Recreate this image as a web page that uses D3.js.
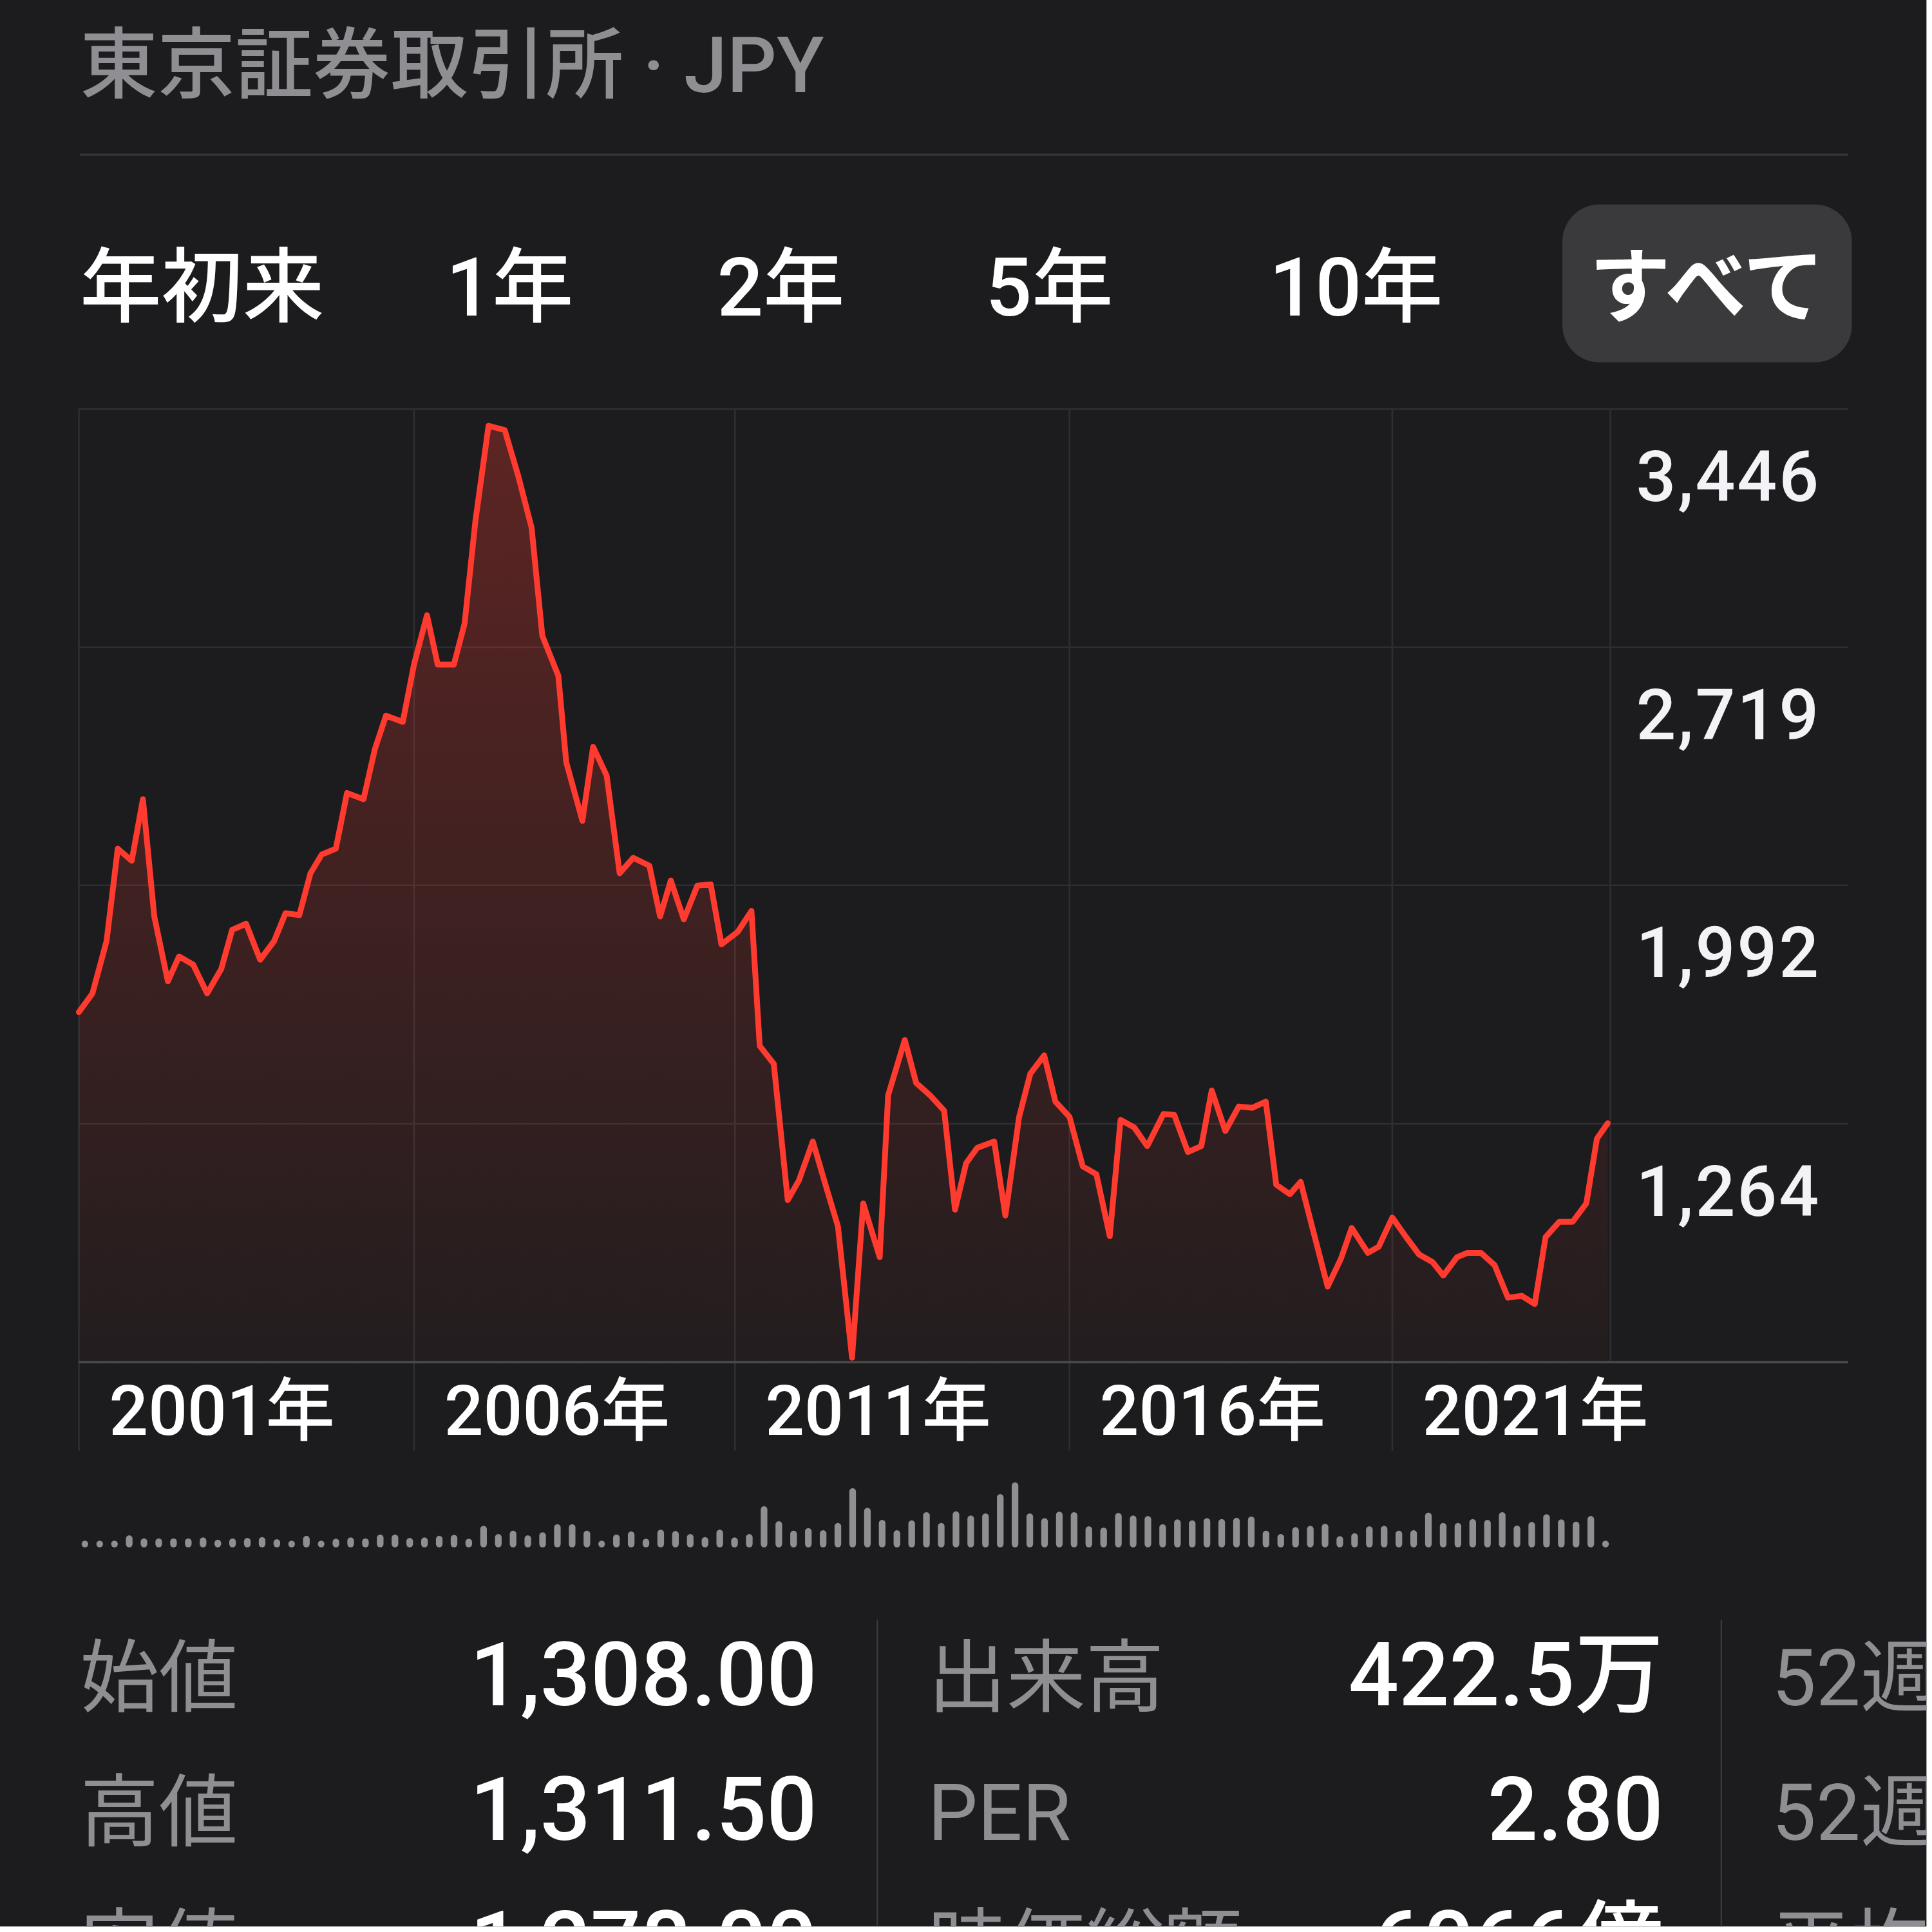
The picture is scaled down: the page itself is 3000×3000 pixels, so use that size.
<!DOCTYPE html>
<meta charset="utf-8">
<title>東京証券取引所 · JPY</title>
<script src="https://d3js.org/d3.v7.min.js"></script>
<style>
  body { margin: 0; background: #ffffff; }
  text { font-family: Roboto, "Noto Sans CJK JP", sans-serif; }
</style>
<body>
<div id="chart"></div>
<script>

// ---- data ----
var dates = [
  "2001-01-01","2001-03-16","2001-06-01","2001-08-01","2001-10-16","2001-12-16",
  "2002-02-16","2002-05-01","2002-07-01","2002-09-16","2002-12-01","2003-02-16",
  "2003-04-16","2003-07-01","2003-09-16","2003-12-01","2004-02-01","2004-04-16",
  "2004-06-16","2004-08-16","2004-11-01","2005-01-01","2005-04-01","2005-06-01",
  "2005-08-01","2005-11-01","2006-01-01","2006-03-16","2006-05-16","2006-08-16",
  "2006-10-16","2006-12-16","2007-03-01","2007-06-01","2007-08-16","2007-11-01",
  "2008-01-01","2008-04-01","2008-05-16","2008-08-16","2008-10-16","2009-01-01",
  "2009-03-16","2009-06-01","2009-09-01","2009-11-01","2010-01-01","2010-03-16",
  "2010-06-01","2010-08-16","2010-10-16","2011-01-16","2011-04-01","2011-05-16",
  "2011-08-01","2011-10-16","2011-12-16","2012-03-01","2012-05-16","2012-07-16",
  "2012-10-01","2012-12-01","2013-03-01","2013-04-16","2013-07-16","2013-09-16",
  "2013-12-01","2014-02-16","2014-04-16","2014-06-16","2014-08-16","2014-11-16",
  "2015-01-16","2015-04-01","2015-06-01","2015-08-16","2015-10-16","2016-01-01",
  "2016-03-16","2016-06-01","2016-08-16","2016-10-16","2017-01-01","2017-03-16",
  "2017-06-16","2017-08-16","2017-11-01","2018-01-16","2018-03-16","2018-06-01",
  "2018-08-16","2018-11-01","2019-01-16","2019-03-16","2019-06-01","2019-08-01",
  "2019-10-16","2020-01-01","2020-03-16","2020-05-16","2020-08-16","2020-10-16",
  "2021-01-01","2021-03-16","2021-06-01","2021-08-16","2021-10-16","2022-01-01",
  "2022-03-01","2022-05-16","2022-08-01","2022-10-16","2023-01-01","2023-03-16",
  "2023-05-16","2023-08-01","2023-10-16","2024-01-01","2024-03-01","2024-05-01"
];

var prices = [
  1605, 1662, 1822, 2104, 2067, 2255,
  1897, 1699, 1775, 1750, 1662, 1737,
  1856, 1875, 1765, 1822, 1907, 1901,
  2029, 2086, 2104, 2274, 2255, 2406,
  2510, 2491, 2666, 2817, 2666, 2666,
  2792, 3103, 3395, 3382, 3244, 3084,
  2754, 2632, 2368, 2189, 2415, 2327,
  2029, 2076, 2052, 1897, 2007, 1888,
  1991, 1995, 1812, 1850, 1914, 1502,
  1447, 1031, 1091, 1210, 1065, 951,
  550, 1021, 857, 1351, 1520, 1389,
  1351, 1304, 1002, 1144, 1191, 1210,
  984, 1285, 1417, 1473, 1332, 1285,
  1134, 1110, 921, 1276, 1253, 1196,
  1294, 1291, 1178, 1196, 1366, 1242,
  1317, 1313, 1332, 1078, 1049, 1087,
  927, 767, 852, 946, 870, 889,
  978, 921, 865, 842, 801, 857,
  870, 870, 833, 733, 739, 714,
  918, 965, 965, 1021, 1219, 1266
];

// volume bars (relative units, left to right)
var volumes = [
  26, 30, 28, 56, 42, 42, 42, 42, 46, 36, 42, 44, 48, 38, 26, 54, 30, 40,
  46, 42, 60, 60, 44, 46, 54, 58, 40, 100, 62, 78, 56, 70, 108, 108, 78, 24,
  60, 74, 40, 82, 76, 62, 48, 82, 46, 62, 192, 122, 78, 90, 80, 114, 276,
  184, 128, 80, 126, 164, 114, 168, 148, 158, 248, 303, 158, 136, 166, 164,
  98, 92, 160, 148, 146, 108, 130, 126, 136, 132, 138, 144, 78, 62, 94, 100,
  110, 52, 66, 98, 100, 78, 80, 162, 114, 114, 132, 128, 164, 102, 118, 154,
  130, 120, 146, 26
];

var priceTicks = [3446, 2719, 1992, 1264];
var priceBottom = 536.5;
var yearTicks = [2001, 2006, 2011, 2016, 2021];
var lastDate = "2024-05-16";

var ranges = ["年初来", "1年", "2年", "5年", "10年", "すべて"];
var selectedRange = "すべて";

var statLabels = [
  ["始値", "高値", "安値"],
  ["出来高", "PER", "時価総額"],
  ["52週高値", "52週安値", "平均出来高"]
];
var statValues = [
  ["1,308.00", "1,311.50", "1,278.00"],
  ["422.5万", "2.80", "6066億"],
  ["", "", ""]
];

// ---- layout (designed on a 1568 grid, scaled to 3000) ----
var S = 3000 / 1568;
function u(v) { return v * S; }

var W = 3000, H = 3000;
var panel = u(1563.5);
var plot = { left: 64, right: 1307, top: 332, bottom: 1105.5, gridRight: 1500 };
var yearX = [64, 336, 596.5, 868, 1130, 1307];
var tabX = [65, 362, 582, 800, 1030, 1290];

var parse = d3.timeParse("%Y-%m-%d");
var series = dates.map(function (d, i) { return { date: parse(d), price: prices[i] }; });

var svg = d3.select("#chart")
  .append("svg")
  .attr("width", W)
  .attr("height", H);

svg.append("rect")
  .attr("width", panel)
  .attr("height", panel)
  .attr("fill", "#1c1c1e");

svg.append("clipPath").attr("id", "panelClip")
  .append("rect").attr("width", panel).attr("height", panel);

var root = svg.append("g").attr("clip-path", "url(#panelClip)");

// title + separator
root.append("text")
  .attr("x", u(65))
  .attr("y", u(75))
  .attr("font-size", u(63))
  .attr("font-weight", 500)
  .attr("fill", "#8e8e93")
  .text("東京証券取引所 · JPY");

root.append("line")
  .attr("x1", u(65)).attr("x2", u(1500))
  .attr("y1", u(125.5)).attr("y2", u(125.5))
  .attr("stroke", "#36363a")
  .attr("stroke-width", u(1.6));

// range selector
root.append("rect")
  .attr("x", u(1268)).attr("y", u(166))
  .attr("width", u(235)).attr("height", u(128))
  .attr("rx", u(30))
  .attr("fill", "#3a3a3c");

root.selectAll(".tab")
  .data(ranges)
  .enter()
  .append("text")
  .attr("class", "tab")
  .attr("x", function (d, i) { return u(tabX[i]); })
  .attr("y", u(256))
  .attr("font-size", u(66))
  .attr("font-weight", function (d) { return d === selectedRange ? 700 : 500; })
  .attr("fill", "#ffffff")
  .text(function (d) { return d; });

// scales
var x = d3.scaleTime()
  .domain(yearTicks.map(function (y) { return new Date(y, 0, 1); }).concat([parse(lastDate)]))
  .range(yearX.map(u));

var y = d3.scaleLinear()
  .domain([priceBottom, priceTicks[0]])
  .range([u(plot.bottom), u(plot.top)]);

// grid
var grid = root.append("g");
grid.selectAll(".hgrid")
  .data(priceTicks)
  .enter()
  .append("line")
  .attr("x1", u(plot.left)).attr("x2", u(plot.gridRight))
  .attr("y1", function (d) { return y(d); })
  .attr("y2", function (d) { return y(d); })
  .attr("stroke", "#2e2e31")
  .attr("stroke-width", u(1.4));

grid.selectAll(".vgrid")
  .data(yearTicks)
  .enter()
  .append("line")
  .attr("x1", function (d) { return x(new Date(d, 0, 1)); })
  .attr("x2", function (d) { return x(new Date(d, 0, 1)); })
  .attr("y1", u(plot.top)).attr("y2", u(1177.6))
  .attr("stroke", "#2e2e31")
  .attr("stroke-width", u(1.4));

grid.append("line")
  .attr("x1", x(parse(lastDate))).attr("x2", x(parse(lastDate)))
  .attr("y1", u(plot.top)).attr("y2", u(plot.bottom))
  .attr("stroke", "#2e2e31")
  .attr("stroke-width", u(1.4));

// area + line
var defs = svg.append("defs");
var grad = defs.append("linearGradient")
  .attr("id", "areaFill")
  .attr("gradientUnits", "userSpaceOnUse")
  .attr("x1", 0).attr("x2", 0)
  .attr("y1", u(plot.top)).attr("y2", u(plot.bottom));
grad.append("stop").attr("offset", "0%").attr("stop-color", "#ff3b30").attr("stop-opacity", 0.29);
grad.append("stop").attr("offset", "100%").attr("stop-color", "#ff3b30").attr("stop-opacity", 0.03);

root.append("path")
  .datum(series)
  .attr("fill", "url(#areaFill)")
  .attr("d", d3.area()
    .x(function (d) { return x(d.date); })
    .y0(u(plot.bottom))
    .y1(function (d) { return y(d.price); }));

// bottom axis line
root.append("line")
  .attr("x1", u(plot.left)).attr("x2", u(plot.gridRight))
  .attr("y1", u(plot.bottom)).attr("y2", u(plot.bottom))
  .attr("stroke", "#4a4a4d")
  .attr("stroke-width", u(2));

root.append("path")
  .datum(series)
  .attr("fill", "none")
  .attr("stroke", "#ff3b30")
  .attr("stroke-width", u(4.7))
  .attr("stroke-linejoin", "round")
  .attr("stroke-linecap", "round")
  .attr("d", d3.line()
    .x(function (d) { return x(d.date); })
    .y(function (d) { return y(d.price); }));

// y labels
root.selectAll(".ylab")
  .data(priceTicks)
  .enter()
  .append("text")
  .attr("x", u(1477.6))
  .attr("y", function (d) { return y(d) + u(74.5); })
  .attr("text-anchor", "end")
  .attr("font-size", u(57))
  .attr("font-weight", 500)
  .attr("letter-spacing", u(1.5))
  .attr("fill", "#f2f2f7")
  .text(function (d) { return d3.format(",")(d); });

// x labels
root.selectAll(".xlab")
  .data(yearTicks)
  .enter()
  .append("text")
  .attr("x", function (d) { return x(new Date(d, 0, 1)) + u(24.5); })
  .attr("y", u(1164.5))
  .attr("font-size", u(56))
  .attr("font-weight", 500)
  .attr("fill", "#ffffff")
  .text(function (d) { return d + "年"; });

// volume bars
var vx = d3.scaleBand()
  .domain(d3.range(volumes.length))
  .range([u(63), u(1309)])
  .paddingInner(0.55)
  .paddingOuter(0.27);

var vh = d3.scaleLinear()
  .domain([0, d3.max(volumes)])
  .range([0, u(52.8)]);

var volBase = u(1255.8);
root.append("g")
  .selectAll("rect")
  .data(volumes)
  .enter()
  .append("rect")
  .attr("x", function (d, i) { return vx(i); })
  .attr("width", vx.bandwidth())
  .attr("y", function (d) { return volBase - Math.max(vh(d), vx.bandwidth()); })
  .attr("height", function (d) { return Math.max(vh(d), vx.bandwidth()); })
  .attr("rx", vx.bandwidth() / 2)
  .attr("fill", "#8e8e93");

// stats table (third row runs off the bottom edge, as in the screenshot)
var rowY = [1384, 1493, 1602];
var colLabelX = [65, 753, 1438];
var colValueX = [663, 1350, 2040];
var dividerX = [712, 1397];

root.selectAll(".divider")
  .data(dividerX)
  .enter()
  .append("line")
  .attr("x1", function (d) { return u(d); })
  .attr("x2", function (d) { return u(d); })
  .attr("y1", u(1314.5)).attr("y2", panel)
  .attr("stroke", "#3a3a3c")
  .attr("stroke-width", u(1.2));

statLabels.forEach(function (col, c) {
  col.forEach(function (label, r) {
    root.append("text")
      .attr("x", u(colLabelX[c]))
      .attr("y", u(rowY[r]))
      .attr("font-size", u(64))
      .attr("font-weight", 400)
      .attr("fill", "#8e8e93")
      .text(label);
    if (statValues[c][r]) {
      root.append("text")
        .attr("x", u(colValueX[c]))
        .attr("y", u(rowY[r]))
        .attr("text-anchor", "end")
        .attr("font-size", u(72))
        .attr("font-weight", 500)
        .attr("fill", "#ffffff")
        .text(statValues[c][r]);
    }
  });
});

</script>
</body>
